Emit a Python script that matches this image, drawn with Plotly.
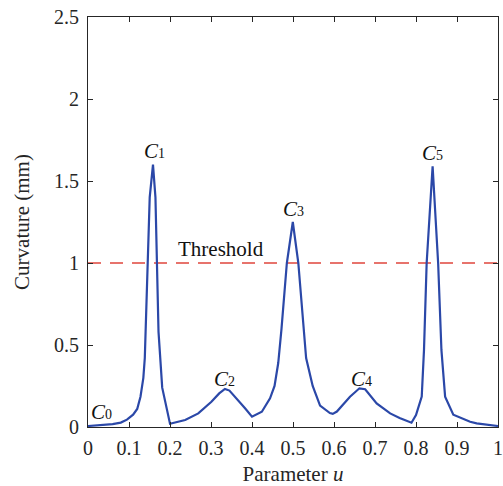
import plotly.graph_objects as go

# Curvature profile along parameter u
u_vals = [0.000, 0.030, 0.060, 0.080, 0.095, 0.110, 0.120, 0.128, 0.135, 0.1385,
          0.1505, 0.1585, 0.1645, 0.172, 0.181, 0.200,
          0.237, 0.269, 0.301, 0.320, 0.334, 0.345, 0.355, 0.383, 0.400,
          0.424, 0.444, 0.455, 0.464, 0.472, 0.485, 0.4995, 0.513, 0.522, 0.532,
          0.548, 0.566, 0.590, 0.597, 0.607, 0.639, 0.662, 0.676, 0.704, 0.737,
          0.760, 0.789, 0.800, 0.814, 0.8195, 0.826, 0.8405, 0.854, 0.862, 0.871,
          0.891, 0.932, 0.948, 1.000]
curv_vals = [0.006, 0.010, 0.018, 0.027, 0.045, 0.075, 0.110, 0.185, 0.300, 0.420,
             1.400, 1.600, 1.400, 0.580, 0.240, 0.020,
             0.043, 0.083, 0.154, 0.205, 0.232, 0.222, 0.195, 0.114, 0.063,
             0.093, 0.175, 0.250, 0.390, 0.600, 1.000, 1.250, 1.000, 0.700, 0.420,
             0.250, 0.130, 0.085, 0.080, 0.094, 0.185, 0.236, 0.230, 0.144, 0.083,
             0.055, 0.026, 0.073, 0.185, 0.470, 1.000, 1.590, 1.000, 0.470, 0.185,
             0.075, 0.032, 0.022, 0.006]

threshold = 1.0

# Labels of characteristic points
label_names = ["0", "1", "2", "3", "4", "5"]
label_u = [0.034, 0.161, 0.332, 0.500, 0.666, 0.841]
label_v = [0.091, 1.683, 0.290, 1.329, 0.293, 1.671]

x_ticks = [0, 0.1, 0.2, 0.3, 0.4, 0.5, 0.6, 0.7, 0.8, 0.9, 1]
x_ticklabels = ["0", "0.1", "0.2", "0.3", "0.4", "0.5", "0.6", "0.7", "0.8", "0.9", "1"]
y_ticks = [0, 0.5, 1, 1.5, 2, 2.5]
y_ticklabels = ["0", "0.5", "1", "1.5", "2", "2.5"]

FONT = "Liberation Serif, Times New Roman, serif"
AX = "#262626"

fig = go.Figure()
fig.add_trace(go.Scatter(x=[0, 1], y=[threshold, threshold], mode="lines",
                         line=dict(color="#e0463c", width=1.5, dash="13px,9px"),
                         hoverinfo="skip", showlegend=False))
fig.add_trace(go.Scatter(x=u_vals, y=curv_vals, mode="lines",
                         line=dict(color="#2b48a8", width=2.2),
                         showlegend=False))

for n, xu, yv in zip(label_names, label_u, label_v):
    fig.add_annotation(x=xu, y=yv, xref="x", yref="y", showarrow=False,
                       text="<i>C</i><span style='font-size:14px'>" + n + "</span>",
                       font=dict(family=FONT, size=21, color="#111111"))

fig.add_annotation(x=0.324, y=1.085, xref="x", yref="y", showarrow=False,
                   text="Threshold", font=dict(family=FONT, size=21, color="#111111"))

axis_common = dict(showline=True, linecolor=AX, linewidth=1, mirror="ticks",
                   ticks="inside", ticklen=5, tickcolor=AX, showgrid=False,
                   zeroline=False, automargin=False,
                   tickfont=dict(family=FONT, size=20, color=AX))

fig.update_xaxes(range=[0, 1], tickvals=x_ticks, ticktext=x_ticklabels,
                 ticklabelstandoff=3,
                 title=dict(text="Parameter <i>u</i>", font=dict(family=FONT, size=21, color=AX),
                            standoff=17),
                 **axis_common)
fig.update_yaxes(range=[0, 2.5], tickvals=y_ticks, ticktext=y_ticklabels,
                 ticklabelstandoff=4,
                 title=dict(text="Curvature (mm)", font=dict(family=FONT, size=21, color=AX),
                            standoff=18),
                 **axis_common)

fig.update_layout(width=503, height=486, margin=dict(l=88, r=5, t=17, b=59),
                  plot_bgcolor="white", paper_bgcolor="white",
                  font=dict(family=FONT))

fig.write_html("out.html", config={"displayModeBar": False},
               post_script="document.body.style.margin='0';document.body.style.overflow='hidden';")
